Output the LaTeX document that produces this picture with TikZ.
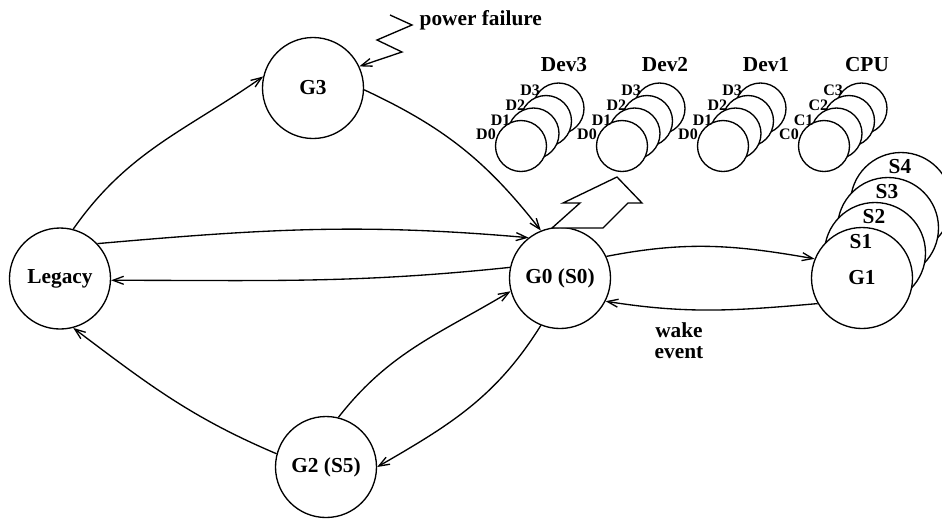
\documentclass[tikz,border=0pt]{standalone}
\usepackage{fontspec}
\setmainfont{Liberation Serif}
\usetikzlibrary{arrows.meta}

\begin{document}
\begin{tikzpicture}[x=0.75pt,y=-0.75pt,
  line width=1pt,
  >={Straight Barb[length=8pt,width=6pt]},
  state/.style={circle,draw,fill=white,minimum size=75.75pt,inner sep=0pt,
    font=\fontsize{16}{18}\selectfont\bfseries},
  level/.style={circle,draw,fill=white,minimum size=38.25pt,inner sep=0pt},
  biglbl/.style={inner sep=0pt,font=\fontsize{16}{15.75}\selectfont\bfseries},
  smalllbl/.style={inner sep=0pt,font=\fontsize{12}{14}\selectfont\bfseries},
  trans/.style={->}]
\useasboundingbox (0,0) rectangle (942,519);

% global states
\node[state] (legacy) at (60,278.5) {Legacy};
\node[state] (g3) at (313,88) {G3};
\node[state] (g0) at (560,278) {G0 (S0)};
\node[state] (g2) at (326,467) {G2 (S5)};

% sleeping states stacked behind G1
\foreach \k in {3,2,1} {
  \node[state] (s\k) at ({862+13*\k},{278-25*\k}) {};
}
\node[state] (g1) at (862,278) {G1};
\foreach \k/\lab in {0/S1,1/S2,2/S3,3/S4} {
  \node[biglbl] (slab\k) at ({861+13*\k},{242-25*\k}) {\lab};
}

% device and processor power states
\foreach \x/\name/\L in {521/Dev3/D,622/Dev2/D,723/Dev1/D,824/CPU/C} {
  \foreach \k in {3,2,1,0} {
    \node[level] (\name-\k) at ({\x+12.5*\k},{146-12.5*\k}) {};
  }
  \foreach \k in {0,1,2,3} {
    \node[smalllbl] (\name-lab\k) at ({\x-35+14.7*\k},{134.5-14.7*\k}) {\L\k};
  }
  \node[biglbl] (\name-title) at ({\x+43},65) {\name};
}

% hollow arrow pointing from G0 towards the device states
\draw[fill=white] (552,228) -- (580,203) -- (563,203) -- (617,177)
  -- (642,203) -- (628,203) -- (603,228) -- cycle;

% power failure lightning stroke
\coordinate (pf) at (390,15);
\draw[->] (pf) -- (412,25) -- (377,40) -- (402,52) -- (g3.25);
\node[biglbl,anchor=base west] (pflabel) at (419,25) {power failure};

% transitions
\draw[trans] (legacy.75.6) to[out=55,in=-145] (g3.167);
\draw[trans] (g3.-2) to[out=-25,in=128] (g0.112);
\draw[trans] (legacy.43) to[out=5,in=175] (g0.128);
\draw[trans] (g0.168) to[out=186,in=0] (legacy.-2);
\draw[trans] (g0.25.7) to[out=11,in=170] (g1.158);
\draw[trans] (g1.210) to[out=185,in=-9] (g0.-27.5);
\draw[trans] (g0.248) to[out=238,in=30] (g2.0);
\draw[trans] (g2.76.5) to[out=52,in=211] (g0.195);
\draw[trans] (g2.165) to[out=157,in=-37] (legacy.-75);

\node[biglbl,align=center] (wake) at (679,341) {wake\\event};
\end{tikzpicture}
\end{document}
